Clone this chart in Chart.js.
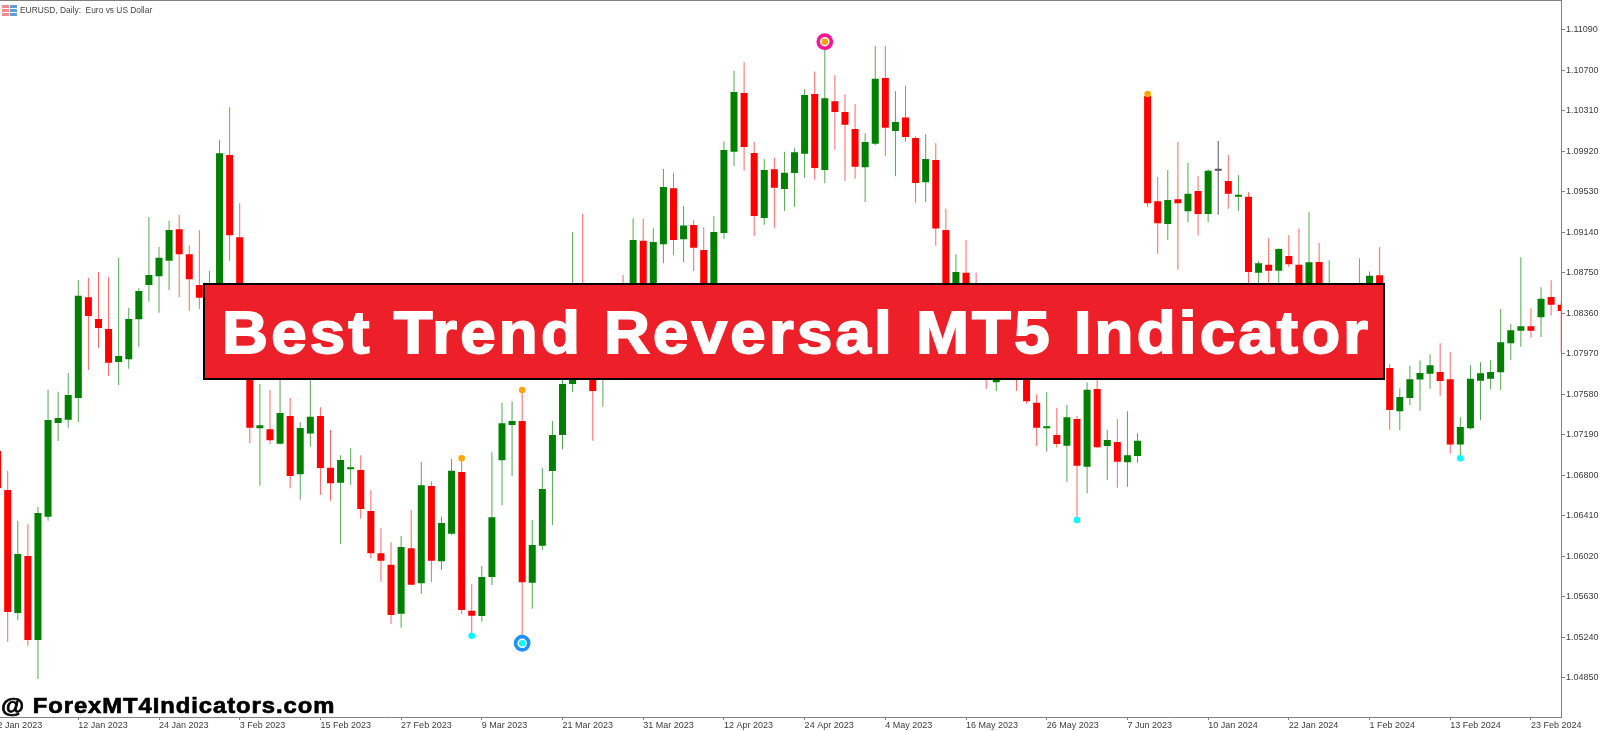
<!DOCTYPE html>
<html>
<head>
<meta charset="utf-8">
<title>EURUSD, Daily</title>
<script src="https://cdn.jsdelivr.net/npm/chart.js@4/dist/chart.umd.min.js"></script>
<style>
  html, body { margin: 0; padding: 0; width: 1600px; height: 731px; overflow: hidden; background: #fff; }
  #grafica { position: absolute; left: -8px; top: 0; }
  #lineaTop { position: absolute; left: 0; top: 0; width: 1562px; height: 1px; background: #808080; }
  #icono { position: absolute; left: 2px; top: 5px; }
  #titulo { position: absolute; left: 20px; top: 5px; font: 8.4px "Liberation Sans", sans-serif; color: #444; white-space: pre; }
  #banner {
    position: absolute; left: 203px; top: 283px; width: 1182px; height: 97px; box-sizing: border-box;
    background: #ed1f28; border: 2px solid #000; color: #fff;
    font: bold 60px "Liberation Sans", sans-serif; -webkit-text-stroke: 1.8px #fff;
    white-space: pre; line-height: 91px; padding-left: 17px;
  }
  #banner span { display: inline-block; transform-origin: left center; transform: scaleX(1.06) translateY(2px); letter-spacing: 3.05px; }
  #marca {
    position: absolute; left: 1px; top: 692px; color: #000; white-space: pre;
    font: bold 22px/28px "Liberation Sans", sans-serif; -webkit-text-stroke: 0.7px #000;
    letter-spacing: 0.9px; transform-origin: left center; transform: scaleX(1.08);
  }
</style>
</head>
<body>
<canvas id="grafica" width="1608" height="731"></canvas>
<div id="lineaTop"></div>
<svg id="icono" width="15" height="11">
  <rect width="7" height="11" fill="#ee8a8a"/><rect x="8" width="7" height="11" fill="#5f9fd8"/>
  <rect y="3" width="15" height="1" fill="#fff"/><rect y="7" width="15" height="1" fill="#fff"/>
</svg>
<div id="titulo">EURUSD, Daily:  Euro vs US Dollar</div>
<div id="banner"><span>Best Trend Reversal MT5 Indicator</span></div>
<div id="marca">@ ForexMT4Indicators.com</div>

<script>
// Prices; the stretch behind the banner is a rough guess
const opens = [
  1.07033,1.06657,1.05473,1.06022,1.05213,1.06400,1.07303,1.07334,1.07543,1.08513,
  1.08304,1.08208,1.07890,1.07916,1.08301,1.08631,1.08715,1.08865,1.09168,1.08927,
  1.08631,1.08198,1.08487,1.09883,1.09091,1.08246,1.07251,1.07242,1.07103,1.07370,
  1.06809,1.07200,1.07370,1.06872,1.06728,1.06857,1.06850,1.06455,1.06048,1.05938,
  1.05466,1.06096,1.05759,1.06696,1.05971,1.06236,1.06831,1.05495,1.05444,1.05819,
  1.06943,1.07283,1.07322,1.05765,1.06121,1.06840,1.07187,1.07678,1.08102,1.07957,
  1.07717,1.08054,1.08487,1.08343,1.09058,1.08391,1.09023,1.09563,1.09072,1.09209,
  1.08968,1.08535,1.09132,1.09915,1.10480,1.09903,1.09277,1.09746,1.09556,1.09710,
  1.09896,1.10471,1.09739,1.10400,1.10297,1.10134,1.09765,1.09992,1.10625,1.10114,
  1.10243,1.10047,1.09620,1.09835,1.09161,1.08294,1.08750,1.08535,1.08054,1.07695,
  1.08102,1.07957,1.07813,1.07498,1.07251,1.07187,1.07084,1.07341,1.06882,1.07630,
  1.07081,1.07120,1.06924,1.06985,1.10452,1.09437,1.09219,1.09457,1.09341,1.09537,
  1.09315,1.09732,1.09633,1.09482,1.09482,1.08750,1.08827,1.08769,1.08911,1.08827,
  1.08439,1.08853,1.08391,1.08294,1.08487,1.08583,1.08487,1.08725,1.07832,1.07415,
  1.07543,1.07720,1.07777,1.07794,1.07723,1.07094,1.07251,1.07710,1.07729,1.07791,
  1.08070,1.08191,1.08234,1.08320,1.08516,1.08442
];
const highs = [
  1.07052,1.06840,1.06362,1.06330,1.06494,1.07620,1.07604,1.07784,1.08680,1.08699,
  1.08757,1.08708,1.08891,1.08413,1.08600,1.09286,1.08997,1.09251,1.09306,1.09014,
  1.09158,1.08766,1.10028,1.10343,1.09418,1.08391,1.07678,1.07620,1.07909,1.07543,
  1.07309,1.07861,1.07454,1.07235,1.06991,1.07059,1.06991,1.06657,1.06288,1.06154,
  1.06214,1.06465,1.06927,1.06741,1.06400,1.06956,1.06963,1.05749,1.05925,1.07020,
  1.07498,1.07511,1.07620,1.06368,1.06869,1.07322,1.07765,1.09139,1.09315,1.08054,
  1.08198,1.08487,1.08728,1.09274,1.09270,1.09177,1.09749,1.09713,1.09389,1.09255,
  1.09187,1.09296,1.10015,1.10695,1.10776,1.10011,1.09845,1.09854,1.09915,1.09948,
  1.10516,1.10686,1.10974,1.10651,1.10468,1.10374,1.10092,1.10933,1.10933,1.10497,
  1.10551,1.10063,1.10083,1.09996,1.09366,1.08927,1.09065,1.08750,1.08294,1.08054,
  1.08198,1.08102,1.07909,1.07579,1.07598,1.07450,1.07479,1.07370,1.07695,1.07736,
  1.07235,1.07338,1.07415,1.07203,1.10471,1.09671,1.09739,1.10009,1.09806,1.09678,
  1.09746,1.10018,1.09883,1.09691,1.09524,1.08863,1.09081,1.08985,1.09113,1.09174,
  1.09337,1.09036,1.08869,1.08535,1.08583,1.08889,1.08760,1.08994,1.07871,1.07637,
  1.07854,1.07903,1.07964,1.08070,1.07989,1.07357,1.07861,1.07887,1.07906,1.08400,
  1.08256,1.08898,1.08407,1.08609,1.08677,1.08477
];
const lows = [
  1.06609,1.05196,1.05405,1.05158,1.04837,1.06362,1.07129,1.07257,1.07312,1.07813,
  1.08025,1.07755,1.07668,1.07825,1.08037,1.08471,1.08365,1.08583,1.08513,1.08384,
  1.08400,1.08102,1.08439,1.08865,1.08150,1.07107,1.06699,1.07100,1.07094,1.06674,
  1.06564,1.07074,1.06609,1.06554,1.06134,1.06708,1.06381,1.06000,1.05774,1.05367,
  1.05331,1.05742,1.05659,1.05768,1.05890,1.06224,1.05466,1.05254,1.05389,1.05742,
  1.06510,1.06792,1.05181,1.05514,1.06082,1.06320,1.07049,1.07601,1.07794,1.07132,
  1.07459,1.07909,1.08054,1.08150,1.08246,1.08246,1.08840,1.08920,1.08853,1.08766,
  1.08391,1.08391,1.09074,1.09777,1.09732,1.09103,1.09212,1.09183,1.09344,1.09385,
  1.09665,1.09645,1.09611,1.09931,1.09636,1.09655,1.09431,1.09980,1.09874,1.09678,
  1.10011,1.09424,1.09431,1.09010,1.08391,1.08150,1.08246,1.08054,1.07633,1.07611,
  1.07765,1.07611,1.07488,1.07081,1.07026,1.07065,1.06737,1.06368,1.06625,1.07059,
  1.06754,1.06679,1.06689,1.06920,1.09383,1.08933,1.09068,1.08779,1.09235,1.09110,
  1.09235,1.09308,1.09366,1.09344,1.08535,1.08487,1.08535,1.08535,1.08805,1.08294,
  1.08294,1.08391,1.08246,1.08198,1.08150,1.08102,1.08294,1.08102,1.07238,1.07235,
  1.07476,1.07421,1.07633,1.07565,1.07007,1.06963,1.07242,1.07331,1.07627,1.07620,
  1.07906,1.08037,1.08124,1.08131,1.08336,1.07979
];
const closes = [
  1.06677,1.05482,1.06041,1.05213,1.06436,1.07331,1.07351,1.07572,1.08528,1.08333,
  1.08217,1.07883,1.07948,1.08304,1.08574,1.08728,1.08894,1.09161,1.08927,1.08686,
  1.08509,1.08583,1.09900,1.09110,1.08246,1.07257,1.07280,1.07136,1.07399,1.06792,
  1.07254,1.07363,1.06869,1.06722,1.06946,1.06869,1.06474,1.06048,1.05976,1.05454,
  1.06108,1.05745,1.06703,1.05976,1.06340,1.06843,1.05502,1.05447,1.05819,1.06394,
  1.07300,1.07322,1.05768,1.06128,1.06667,1.07187,1.07678,1.08005,1.07909,1.07611,
  1.08102,1.08294,1.08198,1.09065,1.08391,1.09046,1.09575,1.09065,1.09203,1.08991,
  1.08535,1.09142,1.09931,1.10490,1.09960,1.09296,1.09739,1.09568,1.09713,1.09909,
  1.10461,1.09758,1.10429,1.10297,1.10175,1.09771,1.10009,1.10618,1.10146,1.10201,
  1.10057,1.09614,1.09845,1.09174,1.08487,1.08757,1.08343,1.08198,1.07861,1.07909,
  1.07861,1.07794,1.07511,1.07257,1.07267,1.07100,1.07357,1.06891,1.07623,1.07069,
  1.07139,1.06930,1.06991,1.07132,1.09418,1.09226,1.09450,1.09418,1.09511,1.09315,
  1.09732,1.09732,1.09511,1.09495,1.08757,1.08840,1.08769,1.08978,1.08831,1.08439,
  1.08850,1.08535,1.08583,1.08487,1.08294,1.08294,1.08721,1.08294,1.07428,1.07553,
  1.07723,1.07784,1.07858,1.07707,1.07094,1.07264,1.07729,1.07781,1.07794,1.08080,
  1.08195,1.08234,1.08191,1.08499,1.08442,1.08381
];

// Date labels sit on every 8th candle
const fechas = [
  '2 Jan 2023','12 Jan 2023','24 Jan 2023','3 Feb 2023','15 Feb 2023','27 Feb 2023','9 Mar 2023',
  '21 Mar 2023','31 Mar 2023','12 Apr 2023','24 Apr 2023','4 May 2023','16 May 2023','26 May 2023',
  '7 Jun 2023','10 Jan 2024','22 Jan 2024','1 Feb 2024','13 Feb 2024','23 Feb 2024'
];
const pasoFechas = 8;
const precios = [
  1.04850,1.05240,1.05630,1.06020,1.06410,1.06800,1.07190,1.07580,1.07970,
  1.08360,1.08750,1.09140,1.09530,1.09920,1.10310,1.10700,1.11090
];

// Candles that carry an indicator mark
const puntosArriba = [46, 52, 82, 114];
const puntosAbajo = [47, 52, 107, 145];
const anilloArriba = [82];
const anilloAbajo = [52];

const VERDE = '#008000', ROJO = '#ff0000', GRIS = '#555555';
const VERDE_MECHA = '#55a855', ROJO_MECHA = '#ff6666';

function colorVela(ctx) {
  const i = ctx.dataIndex;
  if (opens[i] === closes[i]) return GRIS;
  return closes[i] > opens[i] ? VERDE : ROJO;
}
function colorMecha(ctx) {
  const i = ctx.dataIndex;
  if (opens[i] === closes[i]) return GRIS;
  return closes[i] > opens[i] ? VERDE_MECHA : ROJO_MECHA;
}
function marcas(lista, serie) {
  return lista.map(i => ({ x: i, y: serie[i] }));
}

new Chart(document.getElementById('grafica').getContext('2d'), {
  type: 'bar',
  data: {
    datasets: [
      // dots first, they have to stay on top of the rings
      { type: 'scatter', order: 0, data: marcas(puntosArriba, highs), pointRadius: 3.3, pointBorderWidth: 0, pointBackgroundColor: '#ffa500' },
      { type: 'scatter', order: 0, data: marcas(puntosAbajo, lows), pointRadius: 3.3, pointBorderWidth: 0, pointBackgroundColor: '#00ffff' },
      { type: 'scatter', order: 1, data: marcas(anilloArriba, highs), pointRadius: 6.6, pointBorderWidth: 3.6, pointBorderColor: '#ff1493', pointBackgroundColor: '#ffffff' },
      { type: 'scatter', order: 1, data: marcas(anilloAbajo, lows), pointRadius: 6.6, pointBorderWidth: 3.6, pointBorderColor: '#1e90ff', pointBackgroundColor: '#ffffff' },
      {
        order: 2, grouped: false, data: opens.map((o, i) => ({ x: i, y: [o, closes[i]] })),
        backgroundColor: colorVela, barPercentage: 1, maxBarThickness: 7, minBarLength: 2, inflateAmount: 0
      },
      {
        order: 3, grouped: false, data: lows.map((l, i) => ({ x: i, y: [l, highs[i]] })),
        backgroundColor: colorMecha, barPercentage: 1, maxBarThickness: 1, inflateAmount: 0
      }
    ]
  },
  options: {
    responsive: false,
    animation: false,
    layout: { autoPadding: false, padding: { left: 0.56, top: 1, right: 0, bottom: 0 } },
    plugins: { legend: { display: false }, tooltip: { enabled: false } },
    scales: {
      x: {
        type: 'linear',
        offset: false,
        min: -0.5,
        max: 154.98,
        afterBuildTicks: s => { s.ticks = fechas.map((f, k) => ({ value: k * pasoFechas })); },
        afterFit: s => { s.height = 14; s.paddingLeft = 0; s.paddingRight = 0; },
        grid: { offset: false, drawOnChartArea: false, color: '#808080', tickLength: 3 },
        border: { color: '#808080' },
        ticks: {
          autoSkip: false, maxRotation: 0, minRotation: 0, align: 'start', padding: 0,
          color: '#3c3c3c', font: { family: 'Liberation Sans', size: 9 },
          callback: v => fechas[v / pasoFechas]
        }
      },
      y: {
        position: 'right',
        min: 1.04471,
        max: 1.11366,
        afterBuildTicks: s => { s.ticks = precios.map(v => ({ value: v })); },
        // the labels never reach the axis ends, so no room is kept for them
        afterFit: s => { s.width = 39; s.paddingTop = 0; s.paddingBottom = 0; },
        grid: { drawOnChartArea: false, color: '#808080', tickLength: 4 },
        border: { color: '#808080' },
        ticks: {
          padding: 1, color: '#3c3c3c', font: { family: 'Liberation Sans', size: 9 },
          callback: v => v.toFixed(5)
        }
      }
    }
  }
});
</script>
</body>
</html>
